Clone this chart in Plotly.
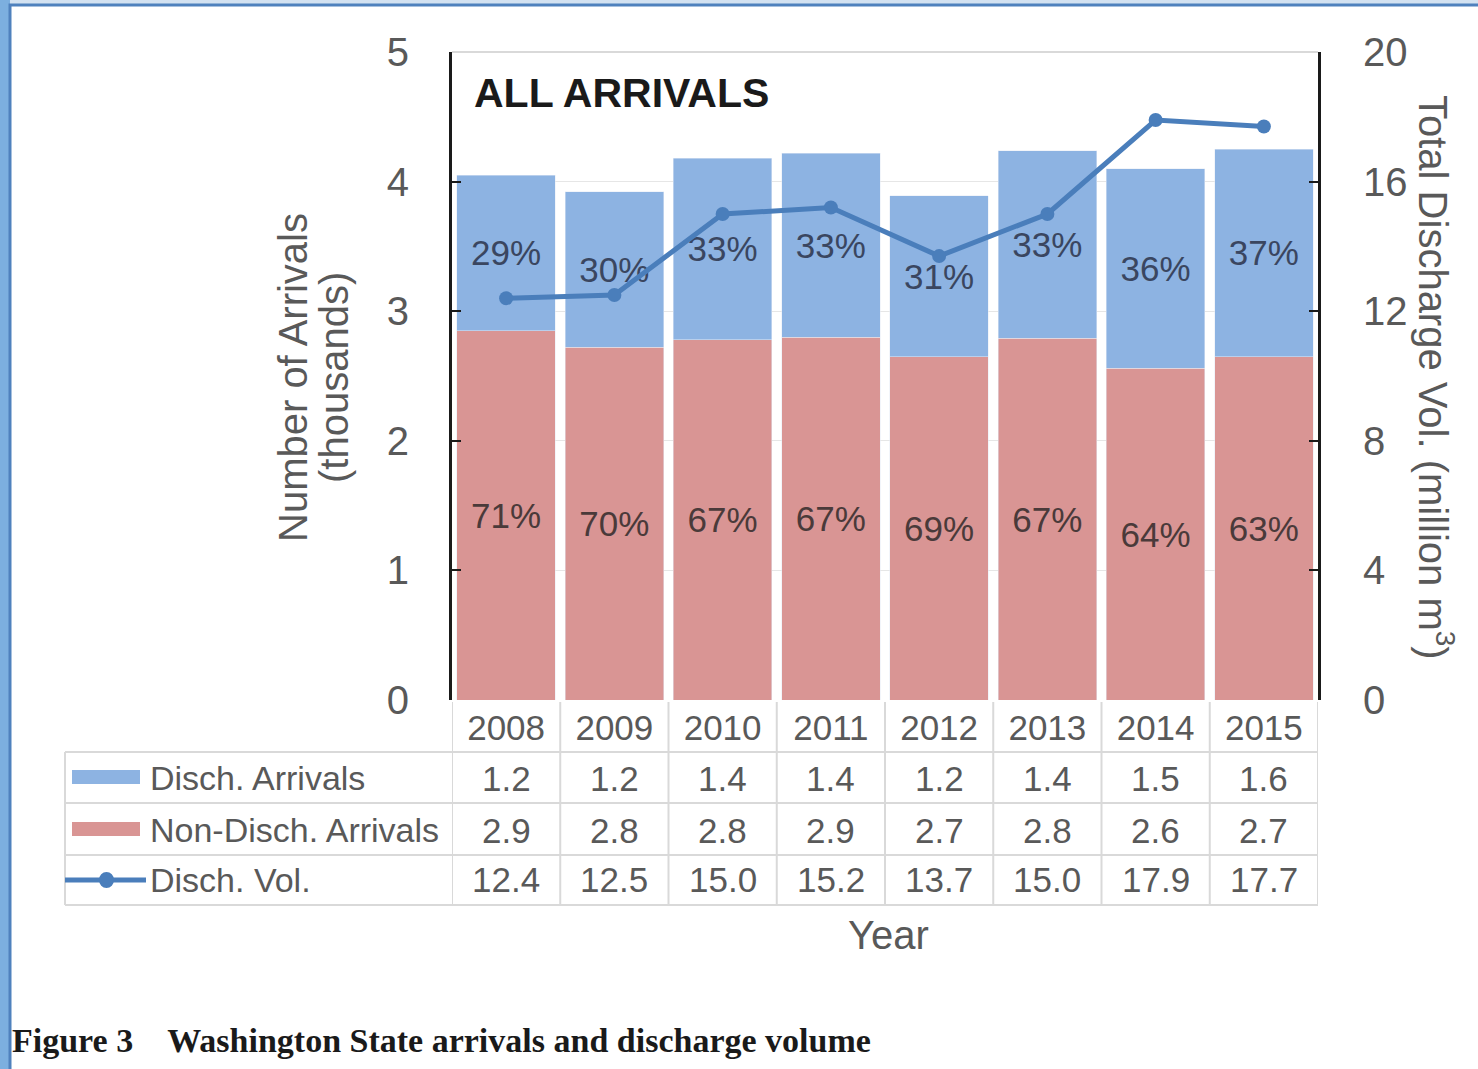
import plotly.graph_objects as go

years = ["2008", "2009", "2010", "2011", "2012", "2013", "2014", "2015"]
disch_arrivals = [1.20, 1.20, 1.40, 1.42, 1.24, 1.45, 1.54, 1.60]
nondisch_arrivals = [2.85, 2.72, 2.78, 2.80, 2.65, 2.79, 2.56, 2.65]
disch_vol = [12.4, 12.5, 15.0, 15.2, 13.7, 15.0, 17.9, 17.7]
disch_pct = ["29%", "30%", "33%", "33%", "31%", "33%", "36%", "37%"]
nondisch_pct = ["71%", "70%", "67%", "67%", "69%", "67%", "64%", "63%"]
table_disch = ["1.2", "1.2", "1.4", "1.4", "1.2", "1.4", "1.5", "1.6"]
table_nondisch = ["2.9", "2.8", "2.8", "2.9", "2.7", "2.8", "2.6", "2.7"]
table_vol = ["12.4", "12.5", "15.0", "15.2", "13.7", "15.0", "17.9", "17.7"]
row_labels = ["Disch. Arrivals", "Non-Disch. Arrivals", "Disch. Vol."]

BLUE = "#8db3e2"
RED = "#d99594"
LINE = "#4a7ebb"
GRAY = "#595959"
FONT = "Liberation Sans"

W, H = 1478, 1069
L, R, T, B = 452, 1318, 52, 700
PW, PH = R - L, B - T


def px(xp):
    return (xp - L) / PW


def py(yp):
    return (B - yp) / PH


fig = go.Figure()
fig.add_trace(go.Bar(
    x=years, y=nondisch_arrivals, name="Non-Disch. Arrivals", marker_color=RED,
    text=nondisch_pct, textposition="inside", insidetextanchor="middle",
    textfont=dict(family=FONT, size=35, color="#4a3a3a"), yaxis="y"))
fig.add_trace(go.Bar(
    x=years, y=disch_arrivals, name="Disch. Arrivals", marker_color=BLUE,
    text=disch_pct, textposition="inside", insidetextanchor="middle",
    textfont=dict(family=FONT, size=35, color="#3a4660"), yaxis="y"))
fig.add_trace(go.Scatter(
    x=years, y=disch_vol, name="Disch. Vol.", mode="lines+markers",
    line=dict(color=LINE, width=5), marker=dict(color=LINE, size=14),
    yaxis="y2"))

shapes = []
annotations = []

# frame of the screenshot
shapes.append(dict(type="rect", xref="paper", yref="paper",
                   x0=px(0), x1=px(10), y0=py(H), y1=py(0),
                   fillcolor="#7cafdf", line_width=0, layer="below"))
shapes.append(dict(type="rect", xref="paper", yref="paper",
                   x0=px(10), x1=px(W + 5), y0=py(H + 5), y1=py(5),
                   fillcolor="white", line=dict(color="#4f81bd", width=3), layer="below"))
# top border of plot area
shapes.append(dict(type="line", xref="paper", yref="paper",
                   x0=0, x1=1, y0=1, y1=1, line=dict(color="#d9d9d9", width=2)))

# table grid
row_lines = [752, 803, 855, 905]
for yl in row_lines:
    shapes.append(dict(type="line", xref="paper", yref="paper",
                       x0=px(65), x1=1, y0=py(yl), y1=py(yl),
                       line=dict(color="#d9d9d9", width=2)))
shapes.append(dict(type="line", xref="paper", yref="paper",
                   x0=px(65), x1=px(65), y0=py(752), y1=py(905),
                   line=dict(color="#d9d9d9", width=2)))
for i in range(len(years) + 1):
    shapes.append(dict(type="line", xref="x", yref="paper",
                       x0=i - 0.5, x1=i - 0.5, y0=py(702), y1=py(905),
                       line=dict(color="#d9d9d9", width=2)))

row_y = [778, 830, 880]
for vals, yc in zip([table_disch, table_nondisch, table_vol], row_y):
    for i, v in enumerate(vals):
        annotations.append(dict(x=i, xref="x", y=py(yc), yref="paper", text=v,
                                xanchor="center", yanchor="middle",
                                showarrow=False, font=dict(family=FONT, size=35, color=GRAY)))

for lab, yc in zip(row_labels, row_y):
    annotations.append(dict(x=px(148), xref="paper", y=py(yc), yref="paper", text=lab,
                            xanchor="left", yanchor="middle", showarrow=False,
                            font=dict(family=FONT, size=34, color=GRAY)))

# legend keys
shapes.append(dict(type="rect", xref="paper", yref="paper",
                   x0=px(72), x1=px(140), y0=py(784), y1=py(770),
                   fillcolor=BLUE, line_width=0))
shapes.append(dict(type="rect", xref="paper", yref="paper",
                   x0=px(72), x1=px(140), y0=py(836), y1=py(822),
                   fillcolor=RED, line_width=0))
shapes.append(dict(type="line", xref="paper", yref="paper",
                   x0=px(65), x1=px(146), y0=py(880), y1=py(880),
                   line=dict(color=LINE, width=5)))
shapes.append(dict(type="circle", xref="paper", yref="paper",
                   x0=px(99), x1=px(114), y0=py(888), y1=py(872),
                   fillcolor=LINE, line_width=0))

annotations += [
    dict(x=px(472), y=py(93), xref="paper", yref="paper", text="<b>ALL ARRIVALS</b>",
         xanchor="left", yanchor="middle", showarrow=False,
         font=dict(family=FONT, size=41, color="#1a1a1a")),
    dict(x=px(293), y=py(378), xref="paper", yref="paper",
         text="Number of Arrivals", textangle=-90, showarrow=False,
         xanchor="center", yanchor="middle",
         font=dict(family=FONT, size=40, color=GRAY)),
    dict(x=px(334), y=py(378), xref="paper", yref="paper",
         text="(thousands)", textangle=-90, showarrow=False,
         xanchor="center", yanchor="middle",
         font=dict(family=FONT, size=40, color=GRAY)),
    dict(x=px(1436), y=py(377), xref="paper", yref="paper",
         text="Total Discharge Vol. (million m<sup>3</sup>)", textangle=90, showarrow=False,
         xanchor="center", yanchor="middle",
         font=dict(family=FONT, size=40, color=GRAY)),
    dict(x=px(888), y=py(935), xref="paper", yref="paper", text="Year", showarrow=False,
         xanchor="center", yanchor="middle",
         font=dict(family=FONT, size=40, color=GRAY)),
    dict(x=px(10), y=py(1040), xref="paper", yref="paper",
         text="<b>Figure 3&nbsp;&nbsp;&nbsp;&nbsp;Washington State arrivals and discharge volume</b>",
         xanchor="left", yanchor="middle", showarrow=False,
         font=dict(family="Liberation Serif", size=34, color="#1a1a1a")),
]

fig.update_layout(
    width=W, height=H,
    margin=dict(l=L, r=W - R, t=T, b=H - B, pad=0),
    paper_bgcolor="#d3e2f1", plot_bgcolor="white",
    barmode="stack", bargap=0.09, showlegend=False,
    shapes=shapes, annotations=annotations,
    xaxis=dict(type="category", range=[-0.5, 7.5], showline=False, ticks="",
               tickfont=dict(family=FONT, size=35, color=GRAY), ticklabelstandoff=4,
               showgrid=False, zeroline=False),
    yaxis=dict(range=[0, 5], dtick=1, showline=True, linecolor="#1a1a1a", linewidth=3,
               ticks="inside", ticklen=9, tickwidth=2, tickcolor="#1a1a1a",
               tickfont=dict(family=FONT, size=40, color=GRAY), ticklabelstandoff=32,
               showgrid=True, gridcolor="#e6e6e6", gridwidth=1, zeroline=False),
    yaxis2=dict(range=[0, 20], dtick=4, overlaying="y", side="right", showline=True,
                linecolor="#1a1a1a", linewidth=3, ticks="inside", ticklen=9, tickwidth=2,
                tickcolor="#1a1a1a", tickfont=dict(family=FONT, size=40, color=GRAY),
                ticklabelstandoff=34, showgrid=False, zeroline=False),
)

fig.write_html("out.html", config={"displayModeBar": False},
               post_script="document.body.style.margin='0';")
